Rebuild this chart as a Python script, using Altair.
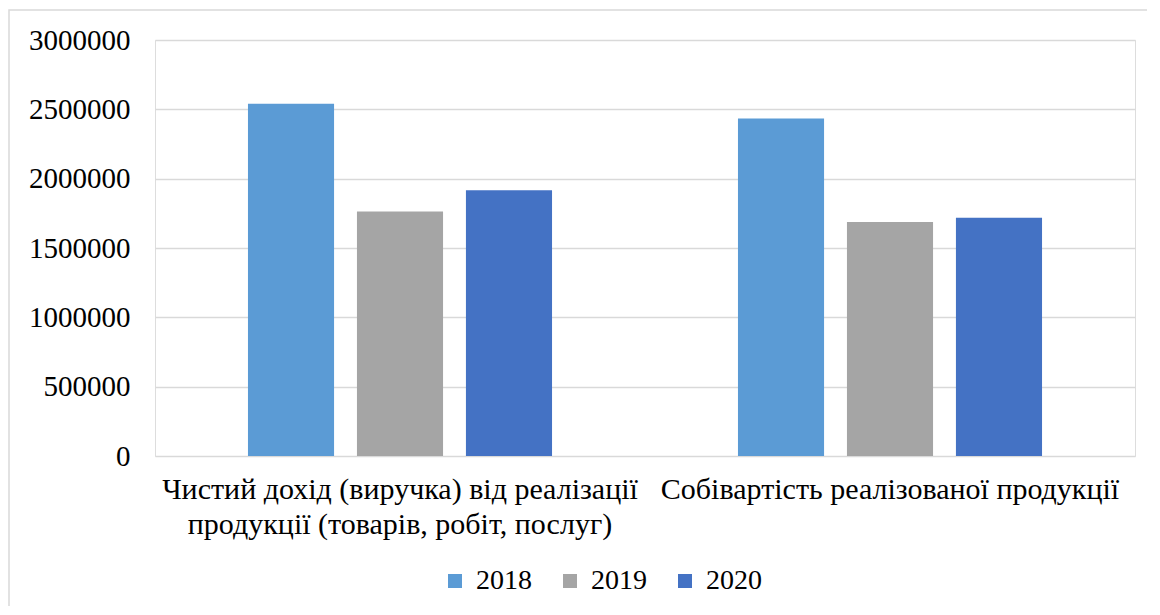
import altair as alt
import pandas as pd

categories = [
    "Чистий дохід (виручка) від реалізації\nпродукції (товарів, робіт, послуг)",
    "Собівартість реалізованої продукції",
]
years = ["2018", "2019", "2020"]
values_2018 = [2541000, 2433000]
values_2019 = [1764000, 1687000]
values_2020 = [1916000, 1719000]
y_ticks = [0, 500000, 1000000, 1500000, 2000000, 2500000, 3000000]
colors = ["#5B9BD5", "#A5A5A5", "#4472C4"]

rows = []
for i, c in enumerate(categories):
    for y, vals in zip(years, [values_2018, values_2019, values_2020]):
        rows.append({"cat": c, "year": y, "value": vals[i]})
df = pd.DataFrame(rows)

FONT = "'Liberation Serif', 'Times New Roman', serif"

bars = alt.Chart(df).mark_bar().encode(
    x=alt.X("cat:N", sort=categories,
            scale=alt.Scale(paddingInner=0, paddingOuter=0),
            axis=alt.Axis(title=None, labelAngle=0, ticks=False, domain=False,
                          labelExpr="split(datum.label, '\\n')",
                          labelFont=FONT, labelFontSize=30, labelColor="#000000",
                          labelPadding=18, labelLineHeight=35, labelBaseline="top",
                          labelLimit=0)),
    xOffset=alt.XOffset("year:N", sort=years,
                        scale=alt.Scale(paddingInner=0.21, paddingOuter=0.853)),
    y=alt.Y("value:Q", scale=alt.Scale(domain=[0, 3000000], nice=False),
            axis=alt.Axis(title=None, values=y_ticks, format="d", ticks=False, domain=False,
                          labelFont=FONT, labelFontSize=29, labelColor="#000000",
                          labelPadding=25, grid=True, gridColor="#D9D9D9", gridWidth=1.5)),
    color=alt.Color("year:N", sort=years,
                    scale=alt.Scale(domain=years, range=colors),
                    legend=alt.Legend(title=None, orient="none", direction="horizontal",
                                      legendX=286, legendY=527,
                                      symbolType="square", symbolSize=196,
                                      symbolStrokeWidth=0,
                                      labelFont=FONT, labelFontSize=28, labelColor="#000000",
                                      labelOffset=7, columnPadding=24, padding=0)),
)

border = alt.Chart(pd.DataFrame({"a": [0]})).mark_rect(
    fillOpacity=0, stroke="#D9D9D9", strokeWidth=1.5
).encode(
    x=alt.value(-146), x2=alt.value(1040), y=alt.value(-30), y2=alt.value(640)
)

chart = alt.layer(border, bars).properties(
    width=980, height=416,
    autosize=alt.AutoSizeParams(type="none"),
    padding={"left": 147, "top": 32, "right": 12, "bottom": 150},
).configure_view(stroke=None).configure(font=FONT)

chart.save("out.html", embed_options={"renderer": "svg", "actions": False})
